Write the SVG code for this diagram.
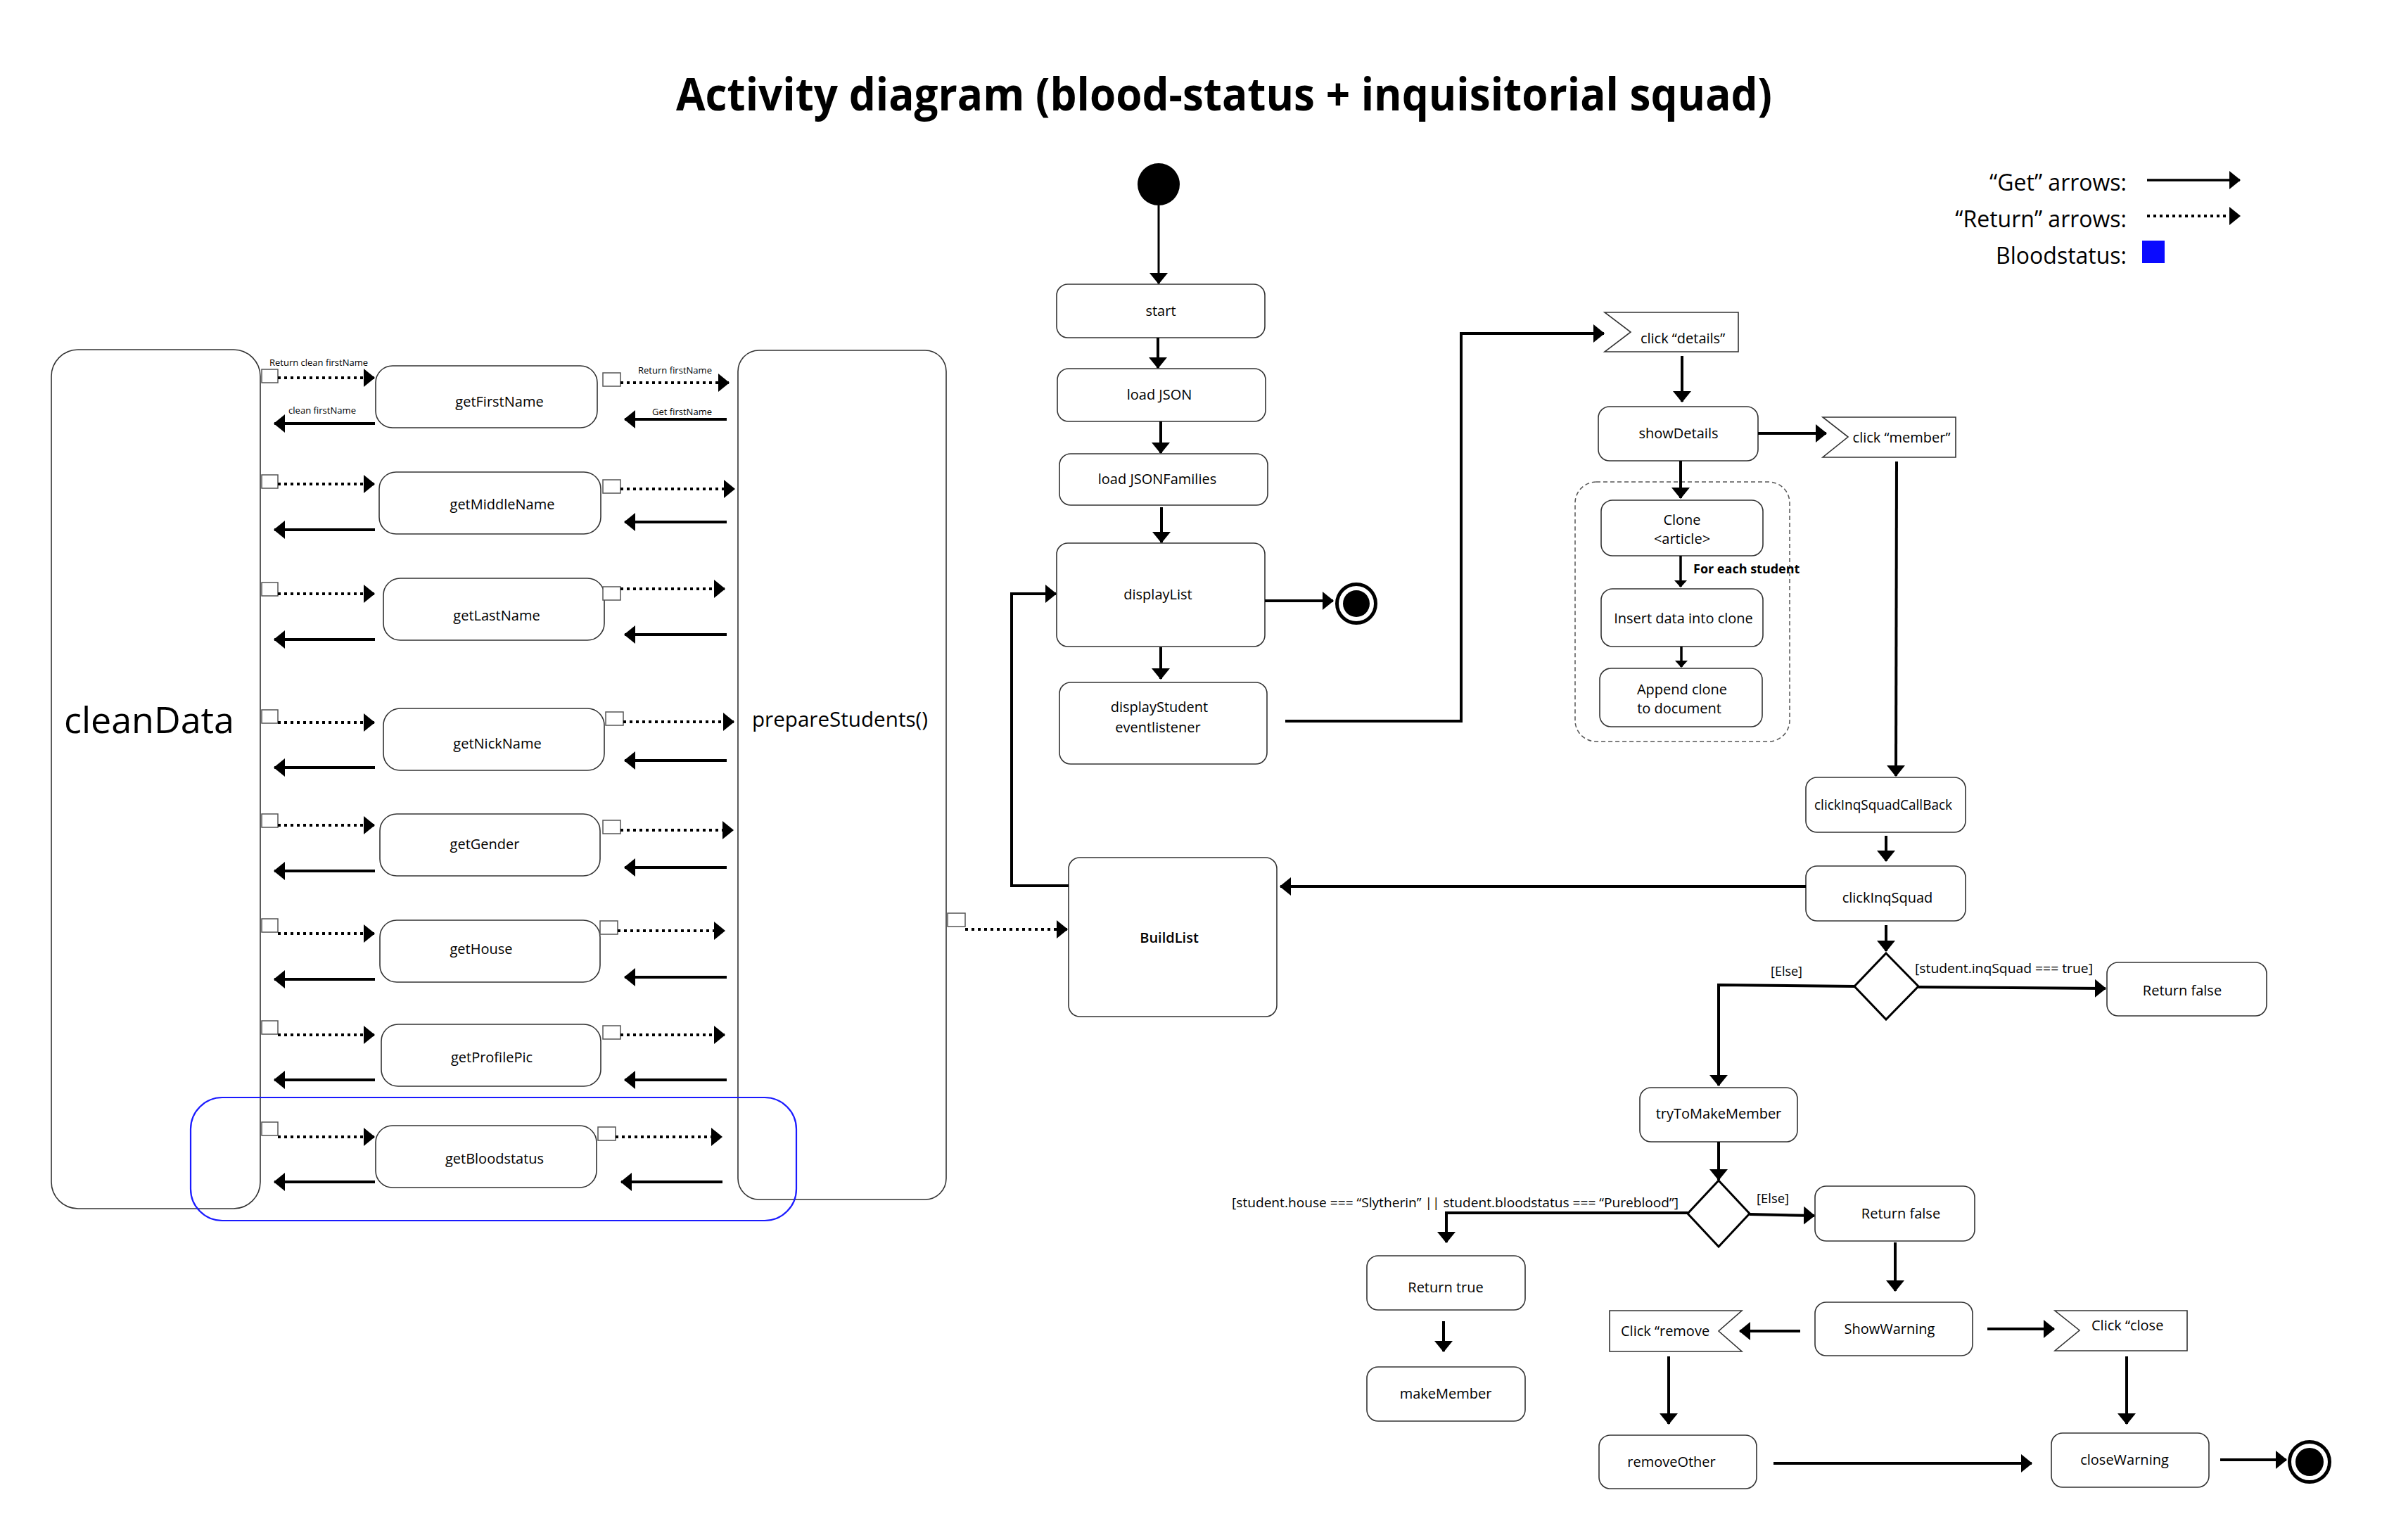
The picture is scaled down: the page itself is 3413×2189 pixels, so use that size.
<svg xmlns="http://www.w3.org/2000/svg" width="3413" height="2189" viewBox="0 0 3413 2189">
<defs>
<style>
text{font-family:"Open Sans","Liberation Sans",Arial,sans-serif;fill:#000}
.box{fill:#fff;stroke:#333;stroke-width:1.6}
.lbl{font-size:20px;text-anchor:middle}
.sm{font-size:12.5px}
.g{font-size:19px}
.c{stroke:#000;stroke-width:4;fill:none;marker-end:url(#ah)}
.cs{stroke:#000;stroke-width:3.5;fill:none;marker-end:url(#ahs)}
.d{stroke:#000;stroke-width:4;stroke-dasharray:4 5;fill:none;marker-end:url(#ah)}
.sq{fill:#fff;stroke:#555;stroke-width:1.5}
.ev{fill:#fff;stroke:#333;stroke-width:1.6}
.lg{font-size:32px;text-anchor:end}
</style>
<marker id="ah" markerUnits="userSpaceOnUse" markerWidth="18" markerHeight="28" refX="15" refY="13" orient="auto"><path d="M0,0 L16,13 L0,26 z" fill="#000"/></marker>
<marker id="ahs" markerUnits="userSpaceOnUse" markerWidth="12" markerHeight="20" refX="9" refY="9" orient="auto"><path d="M0,0 L10,9 L0,18 z" fill="#000"/></marker>
</defs>
<rect width="3413" height="2189" fill="#fff"/>

<g id="title"><text x="1740" y="157" font-size="64" font-weight="bold" text-anchor="middle" textLength="1558" lengthAdjust="spacingAndGlyphs">Activity diagram (blood-status + inquisitorial squad)</text></g>

<g id="legend">
<text class="lg" x="3023" y="271">“Get” arrows:</text>
<text class="lg" x="3023" y="323">“Return” arrows:</text>
<text class="lg" x="3023" y="375">Bloodstatus:</text>
<line x1="3052" y1="256" x2="3184" y2="256" stroke="#000" stroke-width="3.5" marker-end="url(#ah)"/>
<line x1="3052" y1="307" x2="3184" y2="307" stroke="#000" stroke-width="4" stroke-dasharray="4 5" marker-end="url(#ah)"/>
<rect x="3045" y="342" width="32" height="32" fill="#0a0aff"/>
</g>

<g id="cleanData"><rect class="box" x="73" y="497" width="297" height="1221" rx="38"/><text x="91" y="1042" font-size="52" textLength="242" lengthAdjust="spacingAndGlyphs">cleanData</text></g>
<g id="prepareStudents"><rect class="box" x="1049" y="498" width="296" height="1207" rx="30"/><text x="1069" y="1033" font-size="30" textLength="250" lengthAdjust="spacingAndGlyphs">prepareStudents()</text><rect class="sq" x="1347" y="1298" width="25" height="19"/></g>

<g id="getFirstName"><rect class="box" x="534" y="520" width="315" height="88" rx="24"/><text class="lbl" x="710" y="578">getFirstName</text><rect class="sq" x="372" y="525" width="23" height="19"/><rect class="sq" x="857" y="530" width="25" height="19"/></g>
<g id="getMiddleName"><rect class="box" x="539" y="671" width="315" height="88" rx="24"/><text class="lbl" x="714" y="724">getMiddleName</text><rect class="sq" x="372" y="675" width="23" height="19"/><rect class="sq" x="857" y="682" width="25" height="19"/></g>
<g id="getLastName"><rect class="box" x="545" y="822" width="314" height="88" rx="24"/><text class="lbl" x="706" y="882">getLastName</text><rect class="sq" x="372" y="828" width="23" height="19"/><rect class="sq" x="857" y="834" width="25" height="19"/></g>
<g id="getNickName"><rect class="box" x="545" y="1007" width="314" height="88" rx="24"/><text class="lbl" x="707" y="1064">getNickName</text><rect class="sq" x="372" y="1009" width="23" height="19"/><rect class="sq" x="861" y="1012" width="25" height="19"/></g>
<g id="getGender"><rect class="box" x="540" y="1157" width="313" height="88" rx="24"/><text class="lbl" x="689" y="1207">getGender</text><rect class="sq" x="372" y="1157" width="23" height="19"/><rect class="sq" x="857" y="1166" width="25" height="19"/></g>
<g id="getHouse"><rect class="box" x="540" y="1308" width="313" height="88" rx="24"/><text class="lbl" x="684" y="1356">getHouse</text><rect class="sq" x="372" y="1306" width="23" height="19"/><rect class="sq" x="853" y="1309" width="25" height="19"/></g>
<g id="getProfilePic"><rect class="box" x="542" y="1456" width="312" height="88" rx="24"/><text class="lbl" x="699" y="1510">getProfilePic</text><rect class="sq" x="372" y="1451" width="23" height="19"/><rect class="sq" x="857" y="1458" width="25" height="19"/></g>
<g id="getBloodstatus"><rect class="box" x="534" y="1600" width="314" height="88" rx="24"/><text class="lbl" x="703" y="1654">getBloodstatus</text><rect class="sq" x="372" y="1595" width="23" height="19"/><rect class="sq" x="850" y="1602" width="25" height="19"/></g>
<g id="bloodstatusGroup"><rect x="271" y="1560" width="861" height="175" rx="45" fill="none" stroke="#1a1aff" stroke-width="2.2"/></g>

<g id="labels-first">
<text class="sm" x="383" y="520" textLength="140" lengthAdjust="spacingAndGlyphs">Return clean firstName</text>
<text class="sm" x="410" y="588" textLength="96" lengthAdjust="spacingAndGlyphs">clean firstName</text>
<text class="sm" x="907" y="531" textLength="105" lengthAdjust="spacingAndGlyphs">Return firstName</text>
<text class="sm" x="927" y="590" textLength="85" lengthAdjust="spacingAndGlyphs">Get firstName</text>
</g>

<g id="initial"><circle cx="1647" cy="262" r="30" fill="#000"/></g>
<g id="start"><rect class="box" x="1502" y="404" width="296" height="76" rx="16"/><text class="lbl" x="1650" y="449">start</text></g>
<g id="loadJSON"><rect class="box" x="1503" y="524" width="296" height="75" rx="16"/><text class="lbl" x="1648" y="568">load JSON</text></g>
<g id="loadJSONFamilies"><rect class="box" x="1506" y="645" width="296" height="73" rx="16"/><text class="lbl" x="1645" y="688">load JSONFamilies</text></g>
<g id="displayList"><rect class="box" x="1502" y="772" width="296" height="147" rx="16"/><text class="lbl" x="1646" y="852">displayList</text></g>
<g id="displayStudent"><rect class="box" x="1506" y="970" width="295" height="116" rx="16"/><text class="lbl" x="1648" y="1012">displayStudent</text><text class="lbl" x="1646" y="1041">eventlistener</text></g>
<g id="final1"><circle cx="1928" cy="858" r="27.5" fill="#fff" stroke="#000" stroke-width="5"/><circle cx="1928" cy="858" r="19" fill="#000"/></g>
<g id="BuildList"><rect class="box" x="1519" y="1219" width="296" height="226" rx="16"/><text class="lbl" x="1662" y="1340" font-weight="600">BuildList</text></g>

<g id="clickDetails"><polygon class="ev" points="2281,444 2471,444 2471,500 2281,500 2318,472"/><text class="lbl" x="2392" y="488">click “details”</text></g>
<g id="showDetails"><rect class="box" x="2272" y="578" width="227" height="77" rx="16"/><text class="lbl" x="2386" y="623">showDetails</text></g>
<g id="clickMember"><polygon class="ev" points="2591,593 2780,593 2780,650 2591,650 2627,621"/><text class="lbl" x="2703" y="629">click “member”</text></g>
<g id="forEachLoop"><rect x="2239" y="685" width="305" height="369" rx="30" fill="none" stroke="#555" stroke-width="1.5" stroke-dasharray="6 4"/></g>
<g id="cloneArticle"><rect class="box" x="2276" y="711" width="230" height="79" rx="16"/><text class="lbl" x="2391" y="746">Clone</text><text class="lbl" x="2391" y="773">&lt;article&gt;</text></g>
<g id="insertData"><rect class="box" x="2276" y="837" width="230" height="82" rx="16"/><text class="lbl" x="2393" y="886">Insert data into clone</text></g>
<g id="appendClone"><rect class="box" x="2274" y="950" width="231" height="83" rx="16"/><text class="lbl" x="2391" y="987">Append clone</text><text class="lbl" x="2387" y="1014">to document</text></g>
<g id="forEachLabel"><text x="2407" y="815" font-size="18" font-weight="bold">For each student</text></g>

<g id="clickInqSquadCallBack"><rect class="box" x="2567" y="1105" width="227" height="78" rx="16"/><text class="lbl" x="2677" y="1151" textLength="196" lengthAdjust="spacingAndGlyphs">clickInqSquadCallBack</text></g>
<g id="clickInqSquad"><rect class="box" x="2567" y="1231" width="227" height="78" rx="16"/><text class="lbl" x="2683" y="1283">clickInqSquad</text></g>
<g id="decision1"><polygon points="2681,1355 2727,1402 2681,1449 2636,1402" fill="#fff" stroke="#000" stroke-width="3"/></g>
<g id="returnFalse1"><rect class="box" x="2995" y="1368" width="227" height="76" rx="16"/><text class="lbl" x="3102" y="1415">Return false</text></g>
<g id="tryToMakeMember"><rect class="box" x="2331" y="1546" width="224" height="77" rx="16"/><text class="lbl" x="2443" y="1590">tryToMakeMember</text></g>
<g id="decision2"><polygon points="2443,1678 2487,1725 2443,1772 2399,1725" fill="#fff" stroke="#000" stroke-width="3"/></g>
<g id="returnFalse2"><rect class="box" x="2580" y="1686" width="227" height="78" rx="16"/><text class="lbl" x="2702" y="1732">Return false</text></g>
<g id="returnTrue"><rect class="box" x="1943" y="1785" width="225" height="77" rx="16"/><text class="lbl" x="2055" y="1837">Return true</text></g>
<g id="makeMember"><rect class="box" x="1943" y="1943" width="225" height="77" rx="16"/><text class="lbl" x="2055" y="1988">makeMember</text></g>
<g id="showWarning"><rect class="box" x="2580" y="1851" width="224" height="76" rx="16"/><text class="lbl" x="2686" y="1896">ShowWarning</text></g>
<g id="clickRemove"><polygon class="ev" points="2288,1863 2476,1863 2443,1892 2476,1921 2288,1921"/><text x="2304" y="1899" font-size="20">Click “remove</text></g>
<g id="clickClose"><polygon class="ev" points="2921,1863 3109,1863 3109,1920 2921,1920 2956,1891"/><text x="2973" y="1891" font-size="20">Click “close</text></g>
<g id="removeOther"><rect class="box" x="2273" y="2040" width="224" height="76" rx="16"/><text class="lbl" x="2376" y="2085">removeOther</text></g>
<g id="closeWarning"><rect class="box" x="2916" y="2037" width="224" height="77" rx="16"/><text class="lbl" x="3020" y="2082">closeWarning</text></g>
<g id="final2"><circle cx="3283" cy="2078" r="28.5" fill="#fff" stroke="#000" stroke-width="5"/><circle cx="3283" cy="2078" r="20" fill="#000"/></g>

<g id="guards">
<text class="g" x="2722" y="1383" textLength="253" lengthAdjust="spacingAndGlyphs">[student.inqSquad === true]</text>
<text class="g" x="2517" y="1387" textLength="45" lengthAdjust="spacingAndGlyphs">[Else]</text>
<text class="g" x="2497" y="1710" textLength="46" lengthAdjust="spacingAndGlyphs">[Else]</text>
<text class="g" x="1751" y="1716" textLength="635" lengthAdjust="spacingAndGlyphs">[student.house === “Slytherin” || student.bloodstatus === “Pureblood”]</text>
</g>

<g id="connectors">
<line class="d" x1="395" y1="537" x2="532" y2="537"/>
<line class="c" x1="533" y1="602" x2="390" y2="602"/>
<line class="d" x1="882" y1="544" x2="1036" y2="544"/>
<line class="c" x1="1033" y1="596" x2="888" y2="596"/>

<line class="d" x1="395" y1="688" x2="532" y2="688"/>
<line class="c" x1="533" y1="753" x2="390" y2="753"/>
<line class="d" x1="882" y1="695" x2="1044" y2="695"/>
<line class="c" x1="1033" y1="742" x2="888" y2="742"/>

<line class="d" x1="395" y1="844" x2="532" y2="844"/>
<line class="c" x1="533" y1="909" x2="390" y2="909"/>
<line class="d" x1="882" y1="837" x2="1030" y2="837"/>
<line class="c" x1="1033" y1="902" x2="888" y2="902"/>

<line class="d" x1="395" y1="1027" x2="532" y2="1027"/>
<line class="c" x1="533" y1="1091" x2="390" y2="1091"/>
<line class="d" x1="886" y1="1026" x2="1043" y2="1026"/>
<line class="c" x1="1033" y1="1081" x2="888" y2="1081"/>

<line class="d" x1="395" y1="1173" x2="532" y2="1173"/>
<line class="c" x1="533" y1="1238" x2="390" y2="1238"/>
<line class="d" x1="882" y1="1180" x2="1042" y2="1180"/>
<line class="c" x1="1033" y1="1233" x2="888" y2="1233"/>

<line class="d" x1="395" y1="1327" x2="532" y2="1327"/>
<line class="c" x1="533" y1="1392" x2="390" y2="1392"/>
<line class="d" x1="878" y1="1323" x2="1030" y2="1323"/>
<line class="c" x1="1033" y1="1389" x2="888" y2="1389"/>

<line class="d" x1="395" y1="1471" x2="532" y2="1471"/>
<line class="c" x1="533" y1="1535" x2="390" y2="1535"/>
<line class="d" x1="882" y1="1471" x2="1030" y2="1471"/>
<line class="c" x1="1033" y1="1535" x2="888" y2="1535"/>

<line class="d" x1="395" y1="1616" x2="532" y2="1616"/>
<line class="c" x1="533" y1="1680" x2="390" y2="1680"/>
<line class="d" x1="875" y1="1616" x2="1026" y2="1616"/>
<line class="c" x1="1027" y1="1680" x2="883" y2="1680"/>

<line class="d" x1="1372" y1="1321" x2="1517" y2="1321"/>

<line x1="1647" y1="292" x2="1647" y2="403" stroke="#000" stroke-width="3" marker-end="url(#ah)"/>
<line class="c" x1="1646" y1="480" x2="1646" y2="523"/>
<line class="c" x1="1650" y1="599" x2="1650" y2="644"/>
<line class="c" x1="1651" y1="721" x2="1651" y2="771"/>
<line class="c" x1="1650" y1="920" x2="1650" y2="965"/>
<line class="c" x1="1798" y1="854" x2="1895" y2="854"/>
<polyline class="c" points="1519,1259 1438,1259 1438,844 1501,844"/>
<polyline class="c" points="1827,1025 2077,1025 2077,474 2280,474"/>
<line class="c" x1="2391" y1="506" x2="2391" y2="571"/>
<line class="c" x1="2499" y1="616" x2="2596" y2="616"/>
<line class="c" x1="2389" y1="655" x2="2389" y2="708"/>
<line class="cs" x1="2389" y1="790" x2="2389" y2="834"/>
<line class="cs" x1="2390" y1="919" x2="2390" y2="948"/>
<line class="c" x1="2696" y1="656" x2="2695" y2="1103"/>
<line class="c" x1="2681" y1="1188" x2="2681" y2="1224"/>
<line class="c" x1="2567" y1="1260" x2="1820" y2="1260"/>
<line class="c" x1="2681" y1="1315" x2="2681" y2="1352"/>
<line class="c" x1="2727" y1="1403" x2="2993" y2="1405"/>
<polyline class="c" points="2636,1402 2443,1400 2443,1543"/>
<line class="c" x1="2443" y1="1623" x2="2443" y2="1677"/>
<line class="c" x1="2487" y1="1726" x2="2579" y2="1728"/>
<polyline class="c" points="2399,1724 2056,1724 2056,1766"/>
<line class="c" x1="2052" y1="1878" x2="2052" y2="1921"/>
<line class="c" x1="2694" y1="1766" x2="2694" y2="1835"/>
<line class="c" x1="2559" y1="1892" x2="2473" y2="1892"/>
<line class="c" x1="2825" y1="1889" x2="2920" y2="1889"/>
<line class="c" x1="2372" y1="1928" x2="2372" y2="2024"/>
<line class="c" x1="3023" y1="1928" x2="3023" y2="2024"/>
<line class="c" x1="2521" y1="2080" x2="2888" y2="2080"/>
<line class="c" x1="3156" y1="2075" x2="3250" y2="2075"/>
</g>
</svg>
